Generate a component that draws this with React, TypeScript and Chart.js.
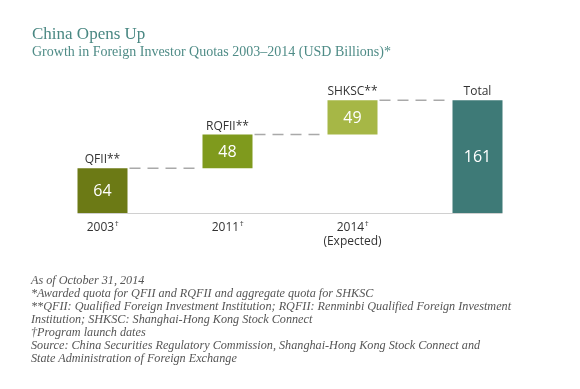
import React, { useEffect, useRef } from "react";
import { Chart, registerables } from "chart.js";

Chart.register(...registerables);

const categories = ["QFII**", "RQFII**", "SHKSC**", "Total"];
const increments = [64, 48, 49];
const totalValue = 161;
const yearLabels = ["2003", "2011", "2014", ""];
const yearSubLabels = ["", "", "(Expected)", ""];
const dagger = "†";
const barColors = ["#6c7a15", "#7f9a1d", "#a6b746", "#3e7a77"];

const titleText = "China Opens Up";
const subtitleText = "Growth in Foreign Investor Quotas 2003\u20132014 (USD Billions)*";
const footnotes = [
  "As of October 31, 2014",
  "*Awarded quota for QFII and RQFII and aggregate quota for SHKSC",
  "**QFII: Qualified Foreign Investment Institution; RQFII: Renminbi Qualified Foreign Investment",
  "Institution; SHKSC: Shanghai-Hong Kong Stock Connect",
  "\u2020Program launch dates",
  "Source: China Securities Regulatory Commission, Shanghai-Hong Kong Stock Connect and",
  "State Administration of Foreign Exchange",
];

const SANS = "'Open Sans', 'Noto Sans', sans-serif";

const waterfallPlugin = {
  id: "waterfallDecor",
  afterDatasetsDraw(chart: any) {
    const ctx = chart.ctx;
    const meta = chart.getDatasetMeta(0);
    const bars = meta.data;
    const yScale = chart.scales.y;
    const basePx = yScale.getPixelForValue(0);
    ctx.save();
    // baseline
    const first = bars[0];
    const last = bars[bars.length - 1];
    ctx.strokeStyle = "#d0d0d0";
    ctx.lineWidth = 1;
    ctx.beginPath();
    ctx.moveTo(first.x - first.width / 2, Math.round(basePx) + 0.5);
    ctx.lineTo(last.x + last.width / 2, Math.round(basePx) + 0.5);
    ctx.stroke();
    // connectors
    ctx.strokeStyle = "#a9a9a9";
    ctx.lineWidth = 1.5;
    ctx.setLineDash([11, 7]);
    for (let i = 0; i < bars.length - 1; i++) {
      const b = bars[i];
      const n = bars[i + 1];
      const y = b.y;
      ctx.beginPath();
      ctx.moveTo(b.x + b.width / 2 + 2, y);
      ctx.lineTo(n.x - n.width / 2 - 2, y);
      ctx.stroke();
    }
    ctx.setLineDash([]);
    // labels
    bars.forEach((b: any, i: number) => {
      const top = b.y;
      const bottom = b.base;
      // value label
      const raw = chart.data.datasets[0].data[i];
      const val = raw[1] - raw[0];
      ctx.fillStyle = "#ffffff";
      ctx.font = `400 16px ${SANS}`;
      ctx.textAlign = "center";
      ctx.textBaseline = "middle";
      ctx.fillText(String(val), b.x, (top + bottom) / 2 + 1);
      // category label above
      ctx.fillStyle = "#333333";
      ctx.font = `400 12px ${SANS}`;
      ctx.textBaseline = "alphabetic";
      ctx.fillText(chart.data.labels[i], b.x, top - 5);
      // year label below the baseline
      const yr = yearLabels[i];
      if (yr) {
        ctx.font = `400 12px ${SANS}`;
        const w1 = ctx.measureText(yr).width;
        ctx.font = `400 8px ${SANS}`;
        const w2 = ctx.measureText(dagger).width;
        const startX = b.x - (w1 + w2) / 2;
        ctx.textAlign = "left";
        ctx.font = `400 12px ${SANS}`;
        ctx.fillText(yr, startX, basePx + 18);
        ctx.font = `400 8px ${SANS}`;
        ctx.fillText(dagger, startX + w1 + 0.5, basePx + 13);
        ctx.textAlign = "center";
      }
      const sub = yearSubLabels[i];
      if (sub) {
        ctx.font = `400 12px ${SANS}`;
        ctx.fillText(sub, b.x, basePx + 32);
      }
    });
    ctx.restore();
  },
};

export default function App() {
  const canvasRef = useRef<HTMLCanvasElement | null>(null);

  useEffect(() => {
    document.body.style.margin = "0";
    const canvas = canvasRef.current;
    if (!canvas) return;
    const ranges: [number, number][] = [];
    let running = 0;
    increments.forEach((v) => {
      ranges.push([running, running + v]);
      running += v;
    });
    ranges.push([0, totalValue]);

    const chart = new Chart(canvas, {
      type: "bar",
      data: {
        labels: categories,
        datasets: [
          {
            data: ranges as any,
            backgroundColor: barColors,
            borderWidth: 0,
            barPercentage: 0.4,
            categoryPercentage: 1,
          },
        ],
      },
      options: {
        animation: false,
        responsive: false,
        maintainAspectRatio: false,
        layout: { padding: { left: 40, right: 40, top: 73, bottom: 176 } },
        plugins: {
          legend: { display: false },
          tooltip: { enabled: false },
          title: { display: false },
        },
        scales: {
          x: { display: false },
          y: { display: false, min: 0, max: 200 },
        },
      },
      plugins: [waterfallPlugin],
    });
    return () => chart.destroy();
  }, []);

  return (
    <div style={{ position: "relative", width: 580, height: 389, background: "#fff", overflow: "hidden" }}>
      <canvas
        ref={canvasRef}
        width={580}
        height={389}
        style={{ position: "absolute", left: 0, top: 0, width: 580, height: 389 }}
      />
      <div
        style={{
          position: "absolute",
          left: 32,
          top: 25,
          fontFamily: "'Liberation Serif', serif",
          fontSize: 17,
          lineHeight: "17px",
          color: "#4a8883",
          whiteSpace: "nowrap",
        }}
      >
        {titleText}
      </div>
      <div
        style={{
          position: "absolute",
          left: 32,
          top: 45,
          fontFamily: "'Liberation Serif', serif",
          fontSize: 14,
          lineHeight: "14px",
          color: "#4f8c87",
          whiteSpace: "nowrap",
        }}
      >
        {subtitleText}
      </div>
      <div
        style={{
          position: "absolute",
          left: 31,
          top: 274,
          fontFamily: "'Liberation Serif', serif",
          fontStyle: "italic",
          fontSize: 12.2,
          lineHeight: "13px",
          color: "#555555",
          whiteSpace: "nowrap",
        }}
      >
        {footnotes.map((f, i) => (
          <div key={i}>{f}</div>
        ))}
      </div>
    </div>
  );
}
